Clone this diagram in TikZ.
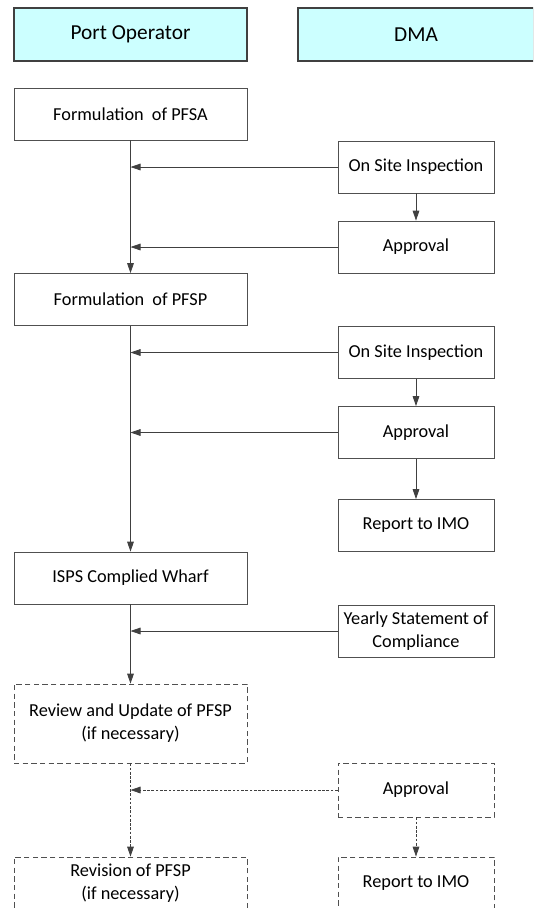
\documentclass[tikz,border=0pt]{standalone}
\usepackage{fontspec}
\setmainfont{Carlito}
\usetikzlibrary{arrows.meta,positioning}
\definecolor{headercyan}{RGB}{204,255,255}
\definecolor{linegray}{RGB}{64,64,64}
\definecolor{bordergray}{RGB}{80,80,80}
\begin{document}
\begin{tikzpicture}[
    x=0.75pt, y=-0.75pt,
    header/.style={draw=linegray, fill=headercyan, line width=0.9pt, minimum width=174.75pt, minimum height=39.75pt, font=\fontsize{16}{19}\selectfont},
    box/.style={draw=bordergray, line width=0.6pt, minimum height=39pt, align=center, inner sep=0pt, font=\fontsize{13.7}{17.25}\selectfont},
    leftbox/.style={box, minimum width=174.75pt},
    rightbox/.style={box, minimum width=117pt},
    optbox/.style={dash pattern=on 4pt off 2.5pt},
    arrow/.style={-{Triangle[length=7.5pt,width=5pt]}, linegray, line width=0.6pt},
    optarrow/.style={arrow, dash pattern=on 2pt off 1.2pt}
]
    \clip (0,0) rectangle (533,908);
    \useasboundingbox (0,0) rectangle (533,908);

    % Headers
    \node[header] (port) at (130.5,34.5) {Port Operator};
    \node[header, minimum width=177pt] (dma) at (416,34.5) {DMA};

    % Boxes
    \node[leftbox] (pfsa) at (130.5,114) {Formulation\ \ of PFSA};
    \node[rightbox] (osi1) at (416,167) {On Site Inspection};
    \node[rightbox] (appr1) at (416,247) {Approval};
    \node[leftbox] (pfsp) at (130.5,299.5) {Formulation\ \ of PFSP};
    \node[rightbox] (osi2) at (416,352.5) {On Site Inspection};
    \node[rightbox] (appr2) at (416,432.5) {Approval};
    \node[rightbox] (imo1) at (416,525.5) {Report to IMO};
    \node[leftbox] (wharf) at (130.5,578) {ISPS Complied Wharf};
    \node[rightbox] (yearly) at (416,631) {Yearly Statement of\\Compliance};
    \node[leftbox, optbox, minimum height=59.25pt] (review) at (130.5,723.5) {Review and Update of PFSP\\(if necessary)};
    \node[rightbox, optbox, minimum height=40.5pt] (appr3) at (416,790) {Approval};
    \node[leftbox, optbox] (revision) at (130.5,883) {Revision of PFSP\\(if necessary)};
    \node[rightbox, optbox] (imo2) at (416,883) {Report to IMO};

    % Junctions on the operator line
    \coordinate (j1) at (pfsa.south |- osi1.west);
    \coordinate (j2) at (pfsa.south |- appr1.west);
    \coordinate (j3) at (pfsp.south |- osi2.west);
    \coordinate (j4) at (pfsp.south |- appr2.west);
    \coordinate (j5) at (wharf.south |- yearly.west);
    \coordinate (j6) at (review.south |- appr3.west);

    % Arrows
    \draw[arrow] (pfsa) -- (pfsp);
    \draw[arrow] (osi1) -- (j1);
    \draw[arrow] (osi1) -- (appr1);
    \draw[arrow] (appr1) -- (j2);
    \draw[arrow] (pfsp) -- (wharf);
    \draw[arrow] (osi2) -- (j3);
    \draw[arrow] (osi2) -- (appr2);
    \draw[arrow] (appr2) -- (j4);
    \draw[arrow] (appr2) -- (imo1);
    \draw[arrow] (wharf) -- (review);
    \draw[arrow] (yearly) -- (j5);
    \draw[optarrow] (review) -- (revision);
    \draw[optarrow] (appr3) -- (j6);
    \draw[optarrow] (appr3) -- (imo2);
\end{tikzpicture}
\end{document}
